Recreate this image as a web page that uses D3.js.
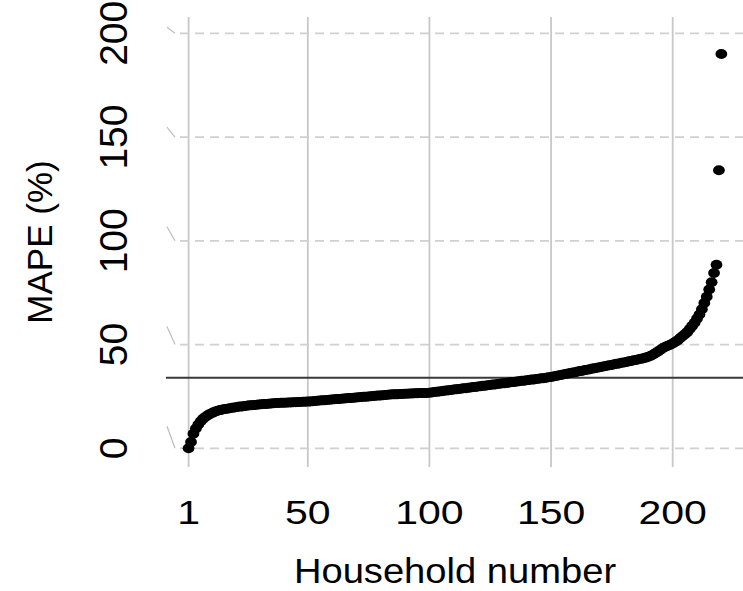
<!DOCTYPE html>
<html>
<head>
<meta charset="utf-8">
<script src="https://cdn.jsdelivr.net/npm/d3@7"></script>
<style>
  html, body { margin: 0; padding: 0; background: #fff; }
  svg { display: block; }
  text { font-family: "Liberation Sans", Arial, sans-serif; fill: #000; }
</style>
</head>
<body>
<svg id="chart" width="743" height="591"></svg>
<script>
// ---- data ----
const mapeValues = [
  0.0, 3.0, 7.0, 9.5, 11.5, 13.0, 14.3, 15.2, 16.0, 16.7,
  17.2, 17.7, 18.1, 18.4, 18.7, 18.9, 19.1, 19.3, 19.5, 19.7,
  19.9, 20.1, 20.2, 20.4, 20.5, 20.7, 20.8, 20.9, 21.0, 21.1,
  21.2, 21.3, 21.4, 21.5, 21.6, 21.7, 21.8, 21.8, 21.9, 22.0,
  22.0, 22.1, 22.1, 22.2, 22.2, 22.3, 22.3, 22.4, 22.4, 22.5,
  22.6, 22.7, 22.8, 22.9, 23.0, 23.1, 23.2, 23.3, 23.4, 23.5,
  23.6, 23.7, 23.8, 23.9, 24.0, 24.1, 24.2, 24.3, 24.4, 24.5,
  24.6, 24.7, 24.8, 24.9, 25.0, 25.1, 25.2, 25.3, 25.4, 25.5,
  25.6, 25.7, 25.8, 25.9, 26.0, 26.0, 26.1, 26.2, 26.2, 26.3,
  26.3, 26.4, 26.4, 26.5, 26.5, 26.6, 26.6, 26.7, 26.7, 26.8,
  26.9, 27.1, 27.2, 27.4, 27.5, 27.7, 27.8, 28.0, 28.1, 28.3,
  28.4, 28.6, 28.7, 28.9, 29.0, 29.2, 29.3, 29.5, 29.6, 29.8,
  29.9, 30.1, 30.2, 30.4, 30.5, 30.7, 30.8, 31.0, 31.1, 31.3,
  31.4, 31.6, 31.7, 31.9, 32.0, 32.2, 32.3, 32.5, 32.6, 32.8,
  32.9, 33.1, 33.2, 33.4, 33.5, 33.7, 33.8, 34.0, 34.2, 34.4,
  34.6, 34.9, 35.1, 35.3, 35.6, 35.8, 36.0, 36.3, 36.5, 36.7,
  37.0, 37.2, 37.4, 37.7, 37.9, 38.1, 38.4, 38.6, 38.8, 39.1,
  39.3, 39.5, 39.8, 40.0, 40.2, 40.5, 40.7, 40.9, 41.2, 41.4,
  41.6, 41.9, 42.1, 42.4, 42.6, 42.9, 43.1, 43.4, 43.7, 44.1,
  44.6, 45.2, 45.9, 46.7, 47.5, 48.3, 48.9, 49.4, 49.9, 50.5,
  51.2, 52.0, 53.0, 54.0, 55.0, 56.0, 57.5, 59.0, 60.5, 62.5,
  64.5, 67.0, 70.0, 73.0, 76.5, 80.0, 84.5, 88.5, 134.0, 190.0
];
const meanMAPE = 34.0;
const xTicks = [1, 50, 100, 150, 200];
const yTicks = [0, 50, 100, 150, 200];
const xTitle = "Household number";
const yTitle = "MAPE (%)";

// ---- drawing ----
const svg = d3.select("#chart");
const W = 743, H = 591;

const x = d3.scaleLinear().domain([1, 200]).range([188.6, 672.7]);
const y = d3.scaleLinear().domain([0, 200]).range([448.3, 33.3]);

const panelTop = 17, panelBottom = 467;

// vertical grid lines (solid)
svg.append("g").selectAll("line").data(xTicks).join("line")
  .attr("x1", d => x(d)).attr("x2", d => x(d))
  .attr("y1", panelTop).attr("y2", panelBottom)
  .attr("stroke", "#c8c8c8").attr("stroke-width", 1.8);

// horizontal grid lines (dashed)
svg.append("g").selectAll("line").data(yTicks).join("line")
  .attr("x1", 180).attr("x2", W)
  .attr("y1", d => y(d)).attr("y2", d => y(d))
  .attr("stroke", "#d0d0d0").attr("stroke-width", 1.8)
  .attr("stroke-dasharray", "9,6");

// slanted tick marks at the left of the dashed grid
svg.append("g").selectAll("line").data(yTicks).join("line")
  .attr("x1", 167).attr("x2", 175)
  .attr("y1", d => y(d) - (6 + (200 - d) * 0.08)).attr("y2", d => y(d))
  .attr("stroke", "#bdbdbd").attr("stroke-width", 1.2);

// mean line
svg.append("line")
  .attr("x1", 166).attr("x2", W)
  .attr("y1", y(meanMAPE)).attr("y2", y(meanMAPE))
  .attr("stroke", "#3a3a3a").attr("stroke-width", 1.8);

// points
svg.append("g").selectAll("ellipse").data(mapeValues).join("ellipse")
  .attr("cx", (d, i) => x(i + 1))
  .attr("cy", d => y(d))
  .attr("rx", 5.9).attr("ry", 5.0)
  .attr("fill", "#000");

// x tick labels
svg.append("g").selectAll("text").data(xTicks).join("text")
  .attr("transform", d => `translate(${x(d)},523.5) scale(1,0.82)`)
  .attr("text-anchor", "middle")
  .style("font-size", "41px")
  .text(d => d);

// y tick labels (rotated)
svg.append("g").selectAll("text").data(yTicks).join("text")
  .attr("transform", d => `translate(126.5,${y(d)}) rotate(-90)`)
  .attr("text-anchor", "middle")
  .style("font-size", "39px")
  .text(d => d);

// axis titles
svg.append("text")
  .attr("transform", "translate(455,583) scale(1.09,1)")
  .attr("text-anchor", "middle")
  .style("font-size", "35px")
  .text(xTitle);

svg.append("text")
  .attr("transform", "translate(52,242) rotate(-90)")
  .attr("text-anchor", "middle")
  .style("font-size", "35px")
  .text(yTitle);
</script>
</body>
</html>
